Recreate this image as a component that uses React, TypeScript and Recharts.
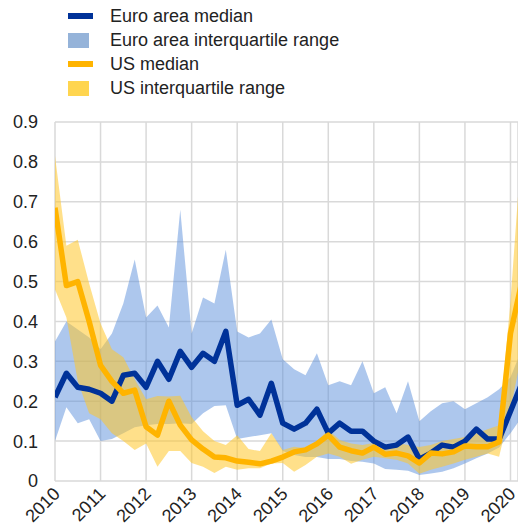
import { ComposedChart, Area, Line, XAxis, YAxis, CartesianGrid } from 'recharts';

const QUARTERS = [
  '2010Q1', '2010Q2', '2010Q3', '2010Q4',
  '2011Q1', '2011Q2', '2011Q3', '2011Q4',
  '2012Q1', '2012Q2', '2012Q3', '2012Q4',
  '2013Q1', '2013Q2', '2013Q3', '2013Q4',
  '2014Q1', '2014Q2', '2014Q3', '2014Q4',
  '2015Q1', '2015Q2', '2015Q3', '2015Q4',
  '2016Q1', '2016Q2', '2016Q3', '2016Q4',
  '2017Q1', '2017Q2', '2017Q3', '2017Q4',
  '2018Q1', '2018Q2', '2018Q3', '2018Q4',
  '2019Q1', '2019Q2', '2019Q3', '2019Q4',
  '2020Q1', '2020Q2',
];

const euroMedian = [
  0.21, 0.27, 0.235, 0.23, 0.22, 0.2, 0.265, 0.27, 0.235, 0.3, 0.255, 0.325,
  0.285, 0.32, 0.3, 0.375, 0.19, 0.205, 0.165, 0.245, 0.145, 0.13, 0.145, 0.18,
  0.12, 0.145, 0.125, 0.125, 0.1, 0.085, 0.09, 0.11, 0.055, 0.07, 0.09, 0.085,
  0.1, 0.13, 0.105, 0.105, 0.175, 0.245,
];
const euroLow = [
  0.1, 0.185, 0.145, 0.155, 0.1, 0.105, 0.12, 0.135, 0.14, 0.143, 0.143, 0.145,
  0.143, 0.17, 0.188, 0.19, 0.105, 0.11, 0.115, 0.12, 0.075, 0.065, 0.06, 0.06,
  0.055, 0.055, 0.05, 0.048, 0.044, 0.03, 0.028, 0.026, 0.015, 0.019, 0.023, 0.032,
  0.044, 0.057, 0.069, 0.084, 0.12, 0.16,
];
const euroHigh = [
  0.35, 0.4, 0.38, 0.36, 0.33, 0.37, 0.445, 0.555, 0.41, 0.44, 0.385, 0.68,
  0.37, 0.46, 0.445, 0.58, 0.375, 0.36, 0.37, 0.405, 0.305, 0.28, 0.265, 0.32,
  0.24, 0.25, 0.24, 0.3, 0.22, 0.235, 0.17, 0.25, 0.15, 0.175, 0.195, 0.2,
  0.18, 0.195, 0.21, 0.23, 0.26, 0.33,
];

const usMedian = [
  0.685, 0.49, 0.5, 0.4, 0.29, 0.25, 0.22, 0.228, 0.136, 0.115, 0.2, 0.14,
  0.103, 0.08, 0.06, 0.058, 0.05, 0.047, 0.043, 0.05, 0.06, 0.073, 0.078, 0.093,
  0.115, 0.085, 0.076, 0.07, 0.085, 0.067, 0.07, 0.063, 0.045, 0.07, 0.068, 0.073,
  0.088, 0.086, 0.086, 0.098, 0.37, 0.5,
];
const usLow = [
  0.48, 0.41, 0.25, 0.17, 0.155, 0.12, 0.1, 0.078, 0.094, 0.036, 0.075, 0.075,
  0.045, 0.036, 0.02, 0.036, 0.028, 0.032, 0.032, 0.044, 0.045, 0.023, 0.04, 0.061,
  0.069, 0.061, 0.043, 0.053, 0.061, 0.057, 0.053, 0.044, 0.018, 0.028, 0.036, 0.044,
  0.053, 0.061, 0.069, 0.061, 0.18, 0.32,
];
const usHigh = [
  0.815, 0.59, 0.605, 0.495, 0.395, 0.33, 0.31, 0.255, 0.205, 0.213, 0.212, 0.214,
  0.16, 0.125, 0.1, 0.09, 0.115, 0.08, 0.075, 0.12, 0.078, 0.086, 0.082, 0.1,
  0.128, 0.103, 0.094, 0.09, 0.095, 0.09, 0.095, 0.09, 0.085, 0.09, 0.1, 0.105,
  0.11, 0.12, 0.13, 0.14, 0.45, 0.85,
];

const yearTicks = [2010, 2011, 2012, 2013, 2014, 2015, 2016, 2017, 2018, 2019, 2020];
const valueTicks = [0, 0.1, 0.2, 0.3, 0.4, 0.5, 0.6, 0.7, 0.8, 0.9];

const legendItems = [
  { label: 'Euro area median', color: '#003299', kind: 'line' },
  { label: 'Euro area interquartile range', color: '#95b3d9', kind: 'box' },
  { label: 'US median', color: '#ffb400', kind: 'line' },
  { label: 'US interquartile range', color: '#ffd54f', kind: 'box' },
];

const FONT = '"Liberation Sans", Arial, sans-serif';

// quarter label -> decimal year
const toTime = (q: string) => Number(q.slice(0, 4)) + (Number(q.slice(5)) - 1) / 4;

const data = QUARTERS.map((q, i) => ({
  t: toTime(q),
  euroMed: euroMedian[i],
  euroRange: [euroLow[i], euroHigh[i]],
  usMed: usMedian[i],
  usRange: [usLow[i], usHigh[i]],
}));

function YearTick({ x, y, payload }: any) {
  const ax = x + 6;
  const ay = y + 12;
  return (
    <text
      x={ax}
      y={ay}
      textAnchor="end"
      fontSize={18}
      fill="#222"
      fontFamily={FONT}
      transform={`rotate(-45, ${ax}, ${ay})`}
    >
      {payload.value}
    </text>
  );
}

function ChartLegend() {
  return (
    <div style={{ position: 'absolute', left: 68, top: 4, fontFamily: FONT, fontSize: 18, color: '#222' }}>
      {legendItems.map((item) => (
        <div key={item.label} style={{ display: 'flex', alignItems: 'center', height: 24 }}>
          <div style={{ width: 42, display: 'flex', alignItems: 'center' }}>
            {item.kind === 'line' ? (
              <div style={{ width: 25, height: 6, background: item.color }} />
            ) : (
              <div style={{ width: 21, height: 15, background: item.color }} />
            )}
          </div>
          <span style={{ lineHeight: '24px' }}>{item.label}</span>
        </div>
      ))}
    </div>
  );
}

export default function App() {
  return (
    <div style={{ position: 'absolute', left: 0, top: 0, width: 518, height: 530, background: '#fff', overflow: 'hidden' }}>
      <ChartLegend />
      <ComposedChart width={518} height={530} data={data} margin={{ top: 122, right: 0, bottom: 0, left: 0 }}>
        <CartesianGrid stroke="#d9d9d9" strokeWidth={1.5} />
        <XAxis
          type="number"
          dataKey="t"
          domain={[2010, 2020.165]}
          allowDataOverflow
          ticks={yearTicks}
          interval={0}
          tick={<YearTick />}
          tickLine={false}
          axisLine={false}
          tickSize={0}
          height={49}
        />
        <YAxis
          type="number"
          domain={[0, 0.9]}
          ticks={valueTicks}
          interval={0}
          width={55}
          tickLine={false}
          axisLine={false}
          tickSize={0}
          tickMargin={17}
          tick={{ fontSize: 18, fill: '#222', fontFamily: FONT }}
        />
        <Area
          type="linear"
          dataKey="euroRange"
          stroke="none"
          fill="#5b8fdb"
          fillOpacity={0.5}
          isAnimationActive={false}
        />
        <Area
          type="linear"
          dataKey="usRange"
          stroke="none"
          fill="#ffc629"
          fillOpacity={0.55}
          isAnimationActive={false}
        />
        <Line
          type="linear"
          dataKey="euroMed"
          stroke="#003299"
          strokeWidth={5.5}
          strokeLinejoin="round"
          dot={false}
          isAnimationActive={false}
        />
        <Line
          type="linear"
          dataKey="usMed"
          stroke="#ffb400"
          strokeWidth={5.5}
          strokeLinejoin="round"
          dot={false}
          isAnimationActive={false}
        />
      </ComposedChart>
    </div>
  );
}
